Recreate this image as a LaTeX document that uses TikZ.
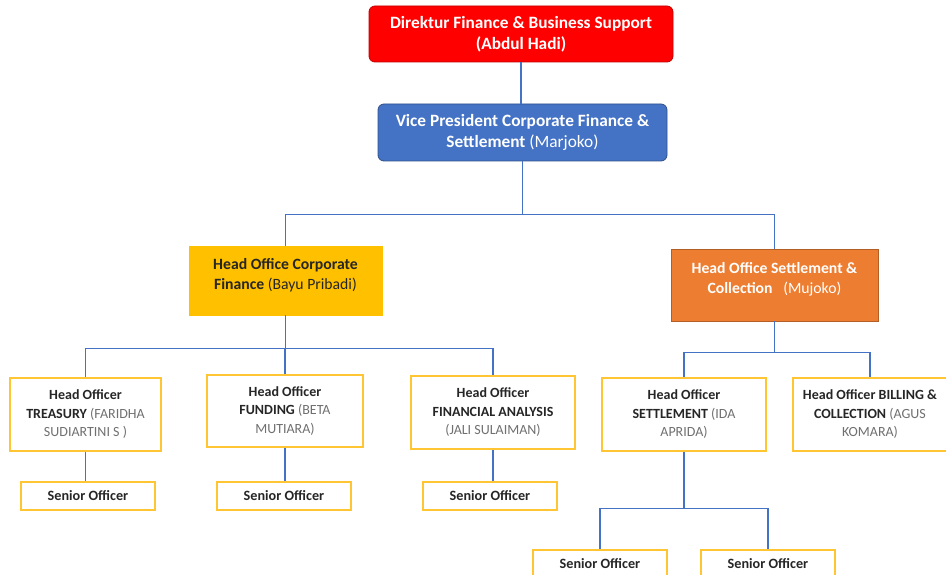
\documentclass[tikz,border=0pt]{standalone}
\usepackage{fontspec}
\setmainfont{Carlito}
\usetikzlibrary{positioning}

\definecolor{dirred}{HTML}{FF0000}
\definecolor{vpblue}{HTML}{4472C4}
\definecolor{hoyellow}{HTML}{FFC000}
\definecolor{hoorange}{HTML}{ED7D31}
\definecolor{boxgold}{HTML}{FFC533}
\definecolor{namegray}{HTML}{707070}
\definecolor{darktext}{HTML}{262626}

\begin{document}
\begin{tikzpicture}[
    x=1pt, y=1pt,
    topbox/.style={rectangle, rounded corners=6pt, thick, align=center,
                text=white, font=\bfseries\fontsize{17.3}{21}\selectfont},
    headbox/.style={rectangle, thick, align=center,
                font=\bfseries\fontsize{15.7}{20}\selectfont},
    officer/.style={rectangle, draw=boxgold, line width=1.4pt, fill=white,
                minimum height=73, align=center, text=darktext,
                font=\fontsize{14}{18.5}\selectfont},
    senior/.style={rectangle, draw=boxgold, line width=1.4pt, fill=white,
                minimum width=134, minimum height=28, text=darktext,
                font=\bfseries\fontsize{14.2}{16}\selectfont},
    conn/.style={draw=vpblue, line width=1.1pt},
]
\useasboundingbox (0,0) rectangle (946,-575);

% pimpinan
\node[topbox, fill=dirred, draw=dirred!75!black, minimum width=304, minimum height=56]
    (dir) at (521,-34) {Direktur Finance \& Business Support\\(Abdul Hadi)};
\node[topbox, fill=vpblue, draw=vpblue!70!black, minimum width=289, minimum height=57]
    (vp) at (522.5,-132.5) {Vice President Corporate Finance \&\\Settlement \mdseries(Marjoko)};

% head office (teks agak ke atas)
\node[headbox, fill=hoyellow, draw=hoyellow, text=darktext, minimum width=193, minimum height=69]
    (corpfin) at (285.5,-280.5) {Head Office Corporate\\Finance \mdseries(Bayu Pribadi)\\[-6pt]\mbox{}};
\node[headbox, fill=hoorange, draw=hoorange!75!black, text=white, minimum width=207, minimum height=72]
    (settle) at (774.5,-285) {Head Office Settlement \&\\Collection\ \ \ \mdseries(Mujoko)\\[-6pt]\mbox{}};

% head officer
\node[officer, minimum width=151] (treasury) at (85.5,-414.5)
    {\textbf{Head Officer}\\\textbf{TREASURY} {\color{namegray}(FARIDHA}\\{\color{namegray}SUDIARTINI S )}};
\node[officer, minimum width=156, minimum height=72] (funding) at (285,-411)
    {\textbf{Head Officer}\\\textbf{FUNDING} {\color{namegray}(BETA}\\{\color{namegray}MUTIARA)}};
\node[officer, minimum width=164] (analysis) at (493,-412.5)
    {\textbf{Head Officer}\\\textbf{FINANCIAL ANALYSIS}\\{\color{namegray}(JALI SULAIMAN)}};
\node[officer, minimum width=164] (settleho) at (684,-414.5)
    {\textbf{Head Officer}\\\textbf{SETTLEMENT} {\color{namegray}(IDA}\\{\color{namegray}APRIDA)}};
\node[officer, minimum width=154] (billing) at (870,-414.5)
    {\textbf{Head Officer BILLING \&}\\\textbf{COLLECTION} {\color{namegray}(AGUS}\\{\color{namegray}KOMARA)}};

% senior officer
\node[senior] (srtreasury) at (88,-496) {Senior Officer};
\node[senior] (srfunding) at (284,-496) {Senior Officer};
\node[senior] (sranalysis) at (490,-496) {Senior Officer};
\node[senior] (srsettlea) at (600,-564) {Senior Officer};
\node[senior] (srsettleb) at (768,-564) {Senior Officer};

% garis
\draw[conn] (dir.south) -- (dir.south |- vp.north);
\draw[conn] (vp.south) -- ++(0,-53) -| (corpfin.north);
\draw[conn] (vp.south) -- ++(0,-53) -| (settle.north);
\draw[conn] (corpfin.south) -- ++(0,-33) -| (treasury.north);
\draw[conn] (corpfin.south) -- ++(0,-33) -| (funding.north);
\draw[conn] (corpfin.south) -- ++(0,-33) -| (analysis.north);
\draw[conn] (settle.south) -- ++(0,-31) -| (settleho.north);
\draw[conn] (settle.south) -- ++(0,-31) -| (billing.north);
\draw[conn] (treasury.south) -- (treasury.south |- srtreasury.north);
\draw[conn] (funding.south) -- (funding.south |- srfunding.north);
\draw[conn] (analysis.south) -- (analysis.south |- sranalysis.north);
\draw[conn] (settleho.south) -- ++(0,-57) -| (srsettlea.north);
\draw[conn] (settleho.south) -- ++(0,-57) -| (srsettleb.north);
\end{tikzpicture}
\end{document}
